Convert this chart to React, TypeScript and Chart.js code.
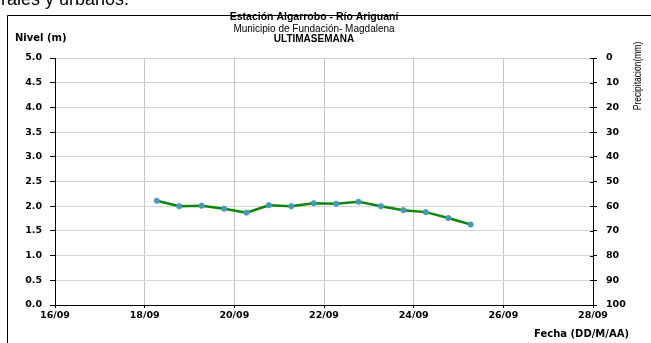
import React, { useEffect, useRef } from "react";
import { Chart, registerables } from "chart.js";
Chart.register(...registerables);

// ---- data ----
const startDay = 16;
const xTickValues = [0, 2, 4, 6, 8, 10, 12];
const xTickLabels = ["16/09", "18/09", "20/09", "22/09", "24/09", "26/09", "28/09"];
const fechas = [
  "18/09 06:30", "18/09 18:30",
  "19/09 06:30", "19/09 18:30",
  "20/09 06:30", "20/09 18:30",
  "21/09 06:30", "21/09 18:30",
  "22/09 06:30", "22/09 18:30",
  "23/09 06:30", "23/09 18:30",
  "24/09 06:30", "24/09 18:30",
  "25/09 06:30",
];
const niveles = [2.11, 2.0, 2.01, 1.95, 1.87, 2.02, 2.0, 2.06, 2.05, 2.09, 2.0, 1.92, 1.88, 1.76, 1.63];
const precipitacion: number[] = [];
const titulo = "Estación Algarrobo - Río Ariguaní";
const subtitulo = "Municipio de Fundación- Magdalena";
const periodo = "ULTIMASEMANA";

function toDays(s: string): number {
  const [d, t] = s.split(" ");
  const dd = Number(d.split("/")[0]);
  const [hh, mm] = t.split(":").map(Number);
  return dd - startDay + (hh + mm / 60) / 24;
}

const ARIAL = '"Liberation Sans", Arial, sans-serif';
const TICKF = '"DejaVu Sans", Verdana, sans-serif';

const decor = {
  id: "decor",
  beforeDraw(chart: any) {
    const ctx = chart.ctx;
    ctx.save();
    ctx.fillStyle = "#fff";
    ctx.fillRect(0, 0, chart.width, chart.height);
    ctx.restore();
  },
  afterDraw(chart: any) {
    const ctx = chart.ctx;
    const area = chart.chartArea;
    ctx.save();
    ctx.fillStyle = "#000";
    ctx.strokeStyle = "#000";
    ctx.lineWidth = 1;
    // outer frame
    ctx.beginPath();
    ctx.moveTo(7.5, chart.height);
    ctx.lineTo(7.5, 15.5);
    ctx.lineTo(chart.width, 15.5);
    ctx.stroke();
    // cut document text
    ctx.font = `18px ${ARIAL}`;
    ctx.textAlign = "left";
    ctx.textBaseline = "alphabetic";
    ctx.fillText("rales y urbanos.", 1, 5);
    // titles
    ctx.textAlign = "center";
    ctx.textBaseline = "middle";
    ctx.font = `bold 10.5px ${ARIAL}`;
    ctx.fillText(titulo, 314, 17);
    ctx.font = `10px ${ARIAL}`;
    ctx.fillText(subtitulo, 314, 29);
    ctx.font = `bold 10px ${ARIAL}`;
    ctx.fillText(periodo, 314, 39);
    // axis titles
    ctx.font = `bold 10px ${TICKF}`;
    ctx.textAlign = "left";
    ctx.fillText("Nivel (m)", 15, 38);
    ctx.textAlign = "right";
    ctx.fillText("Fecha (DD/M/AA)", 629, 334);
    // inner ticks on right axis
    const y2 = chart.scales.y2;
    ctx.beginPath();
    y2.ticks.forEach((t: any) => {
      const y = Math.round(y2.getPixelForValue(t.value)) + 0.5;
      ctx.moveTo(area.right - 3, y);
      ctx.lineTo(area.right, y);
    });
    ctx.stroke();
    // right title
    ctx.translate(638, 76);
    ctx.rotate(-Math.PI / 2);
    ctx.scale(0.74, 1);
    ctx.textAlign = "center";
    ctx.textBaseline = "middle";
    ctx.font = `11.5px ${ARIAL}`;
    ctx.fillText("Precipitacion(mm)", 0, 0);
    ctx.restore();
  },
};

export default function App() {
  const ref = useRef<HTMLCanvasElement>(null);
  useEffect(() => {
    const tickFont = { family: TICKF, size: 9.5, weight: "bold" as const };
    const chart = new Chart(ref.current!, {
      type: "line",
      data: {
        datasets: [
          {
            label: "Nivel",
            data: fechas.map((f, i) => ({ x: toDays(f), y: niveles[i] })),
            borderColor: "#0a870a",
            borderWidth: 2.5,
            pointRadius: 2.6,
            pointBackgroundColor: "#4699b9",
            pointBorderColor: "#4699b9",
            pointBorderWidth: 1,
            tension: 0,
            yAxisID: "y",
          },
          {
            label: "Precipitación",
            data: precipitacion.map((v, i) => ({ x: toDays(fechas[i]), y: v })),
            borderColor: "#3366cc",
            yAxisID: "y2",
          },
        ],
      },
      options: {
        responsive: false,
        animation: false,
        layout: { padding: { left: 0, top: 58, right: 0, bottom: 0 } },
        plugins: { legend: { display: false }, tooltip: { enabled: false }, title: { display: false } },
        scales: {
          x: {
            type: "linear",
            min: 0,
            max: 12,
            afterBuildTicks: (s: any) => {
              s.ticks = xTickValues.map((v) => ({ value: v }));
            },
            afterFit: (s: any) => {
              s.height = 38;
            },
            ticks: {
              callback: (v: any) => xTickLabels[xTickValues.indexOf(Number(v))],
              font: tickFont,
              color: "#000",
              padding: 2,
              maxRotation: 0,
              autoSkip: false,
            },
            grid: {
              color: (c: any) => (c.tick && (c.tick.value === 0 || c.tick.value === 12) ? "rgba(0,0,0,0)" : "#c4c4c4"),
              tickColor: "#000",
              tickLength: 3,
              lineWidth: 1,
            },
            border: { color: "#000", width: 1 },
          },
          y: {
            position: "left",
            min: 0,
            max: 5,
            afterFit: (s: any) => {
              s.width = 55;
            },
            ticks: {
              stepSize: 0.5,
              callback: (v: any) => Number(v).toFixed(1),
              font: tickFont,
              color: "#000",
              padding: 8,
            },
            grid: { color: "#d4d4d4", tickColor: "#000", tickLength: 5, lineWidth: 1 },
            border: { color: "#000", width: 1 },
          },
          y2: {
            position: "right",
            reverse: true,
            min: 0,
            max: 100,
            afterFit: (s: any) => {
              s.width = 58;
            },
            ticks: { stepSize: 10, font: tickFont, color: "#000", padding: 9 },
            grid: { drawOnChartArea: false, tickColor: "#000", tickLength: 4 },
            border: { color: "#000", width: 1 },
          },
        },
      },
      plugins: [decor],
    });
    return () => chart.destroy();
  }, []);
  return (
    <div style={{ position: "fixed", left: 0, top: 0, width: 651, height: 343, background: "#fff" }}>
      <canvas ref={ref} width={651} height={343} style={{ display: "block" }} />
    </div>
  );
}
